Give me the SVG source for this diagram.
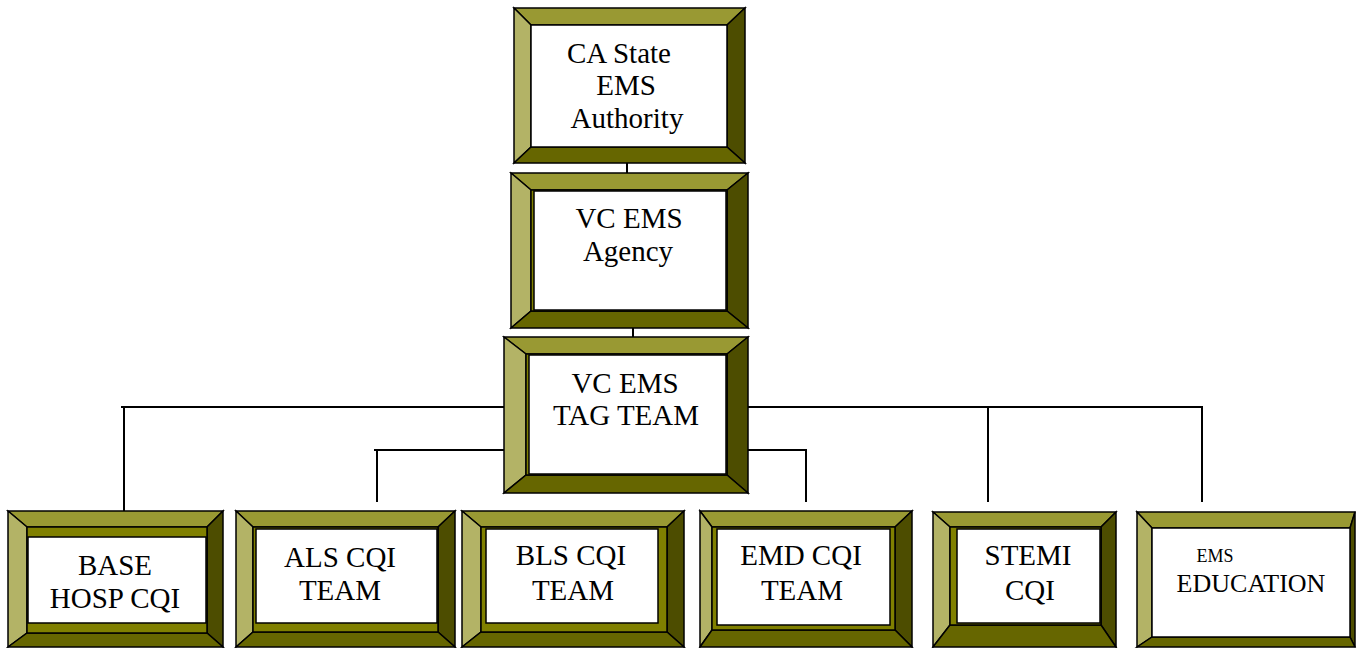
<svg xmlns="http://www.w3.org/2000/svg" width="1357" height="648" viewBox="0 0 1357 648">
<style>
.t{fill:#999933;stroke:#000;stroke-width:1.5}
.l{fill:#b3b366;stroke:#000;stroke-width:1.5}
.r{fill:#4d4d00;stroke:#000;stroke-width:1.5}
.b{fill:#666600;stroke:#000;stroke-width:1.5}
.o{fill:#808000;stroke:#000;stroke-width:1.5}
.w{fill:#fff;stroke:#000;stroke-width:1.5}
text{font-family:'Liberation Serif','DejaVu Serif',serif;font-size:29px;fill:#000;text-anchor:middle}
.con line{stroke:#000;stroke-width:2;fill:none}
</style>
<rect width="1357" height="648" fill="#fff"/>
<g id="connectors" class="con">
<line x1="627" y1="163" x2="627" y2="173"/>
<line x1="633" y1="328" x2="633" y2="337"/>
<line x1="121" y1="407" x2="504" y2="407"/>
<line x1="124" y1="407" x2="124" y2="511"/>
<line x1="374" y1="450" x2="504" y2="450"/>
<line x1="377" y1="450" x2="377" y2="502"/>
<line x1="748" y1="407" x2="1203" y2="407"/>
<line x1="988" y1="407" x2="988" y2="502"/>
<line x1="1202" y1="407" x2="1202" y2="502"/>
<line x1="748" y1="450" x2="807" y2="450"/>
<line x1="806" y1="450" x2="806" y2="502"/>
</g>
<g id="ca-state">
<polygon class="t" points="514,8 745,8 727,25 531,25"/>
<polygon class="l" points="514,8 531,25 531,147 514,163"/>
<polygon class="r" points="745,8 745,163 727,147 727,25"/>
<polygon class="b" points="514,163 531,147 727,147 745,163"/>
<rect class="w" x="531" y="25" width="196" height="122"/>
<text x="619" y="63">CA State</text>
<text x="626" y="95">EMS</text>
<text x="627" y="128">Authority</text>
</g>
<g id="vc-agency">
<polygon class="t" points="511,173 748,173 727,190 531,190"/>
<polygon class="l" points="511,173 531,190 531,311 511,328"/>
<polygon class="r" points="748,173 748,328 727,311 727,190"/>
<polygon class="b" points="511,328 531,311 727,311 748,328"/>
<rect class="o" x="531" y="190" width="196" height="121"/>
<rect class="w" x="534" y="191" width="192" height="119"/>
<text x="629" y="228">VC EMS</text>
<text x="628" y="261">Agency</text>
</g>
<g id="tag-team">
<polygon class="t" points="504,337 748,337 727,354 526,354"/>
<polygon class="l" points="504,337 526,354 526,475 504,493"/>
<polygon class="r" points="748,337 748,493 727,475 727,354"/>
<polygon class="b" points="504,493 526,475 727,475 748,493"/>
<rect class="o" x="526" y="354" width="201" height="121"/>
<rect class="w" x="529" y="355" width="197" height="119"/>
<text x="625" y="393">VC EMS</text>
<text x="626" y="425">TAG TEAM</text>
</g>
<g id="base-hosp">
<polygon class="t" points="8,511 223,511 207,527 27,527"/>
<polygon class="l" points="8,511 27,527 27,633 8,647"/>
<polygon class="r" points="223,511 223,647 207,633 207,527"/>
<polygon class="b" points="8,647 27,633 207,633 223,647"/>
<rect class="o" x="27" y="527" width="180" height="106"/>
<rect class="w" x="28" y="537" width="178" height="86"/>
<text x="115" y="575">BASE</text>
<text x="115" y="608">HOSP CQI</text>
</g>
<g id="als">
<polygon class="t" points="236,511 455,511 438,527 253,527"/>
<polygon class="l" points="236,511 253,527 253,632 236,647"/>
<polygon class="r" points="455,511 455,647 438,632 438,527"/>
<polygon class="b" points="236,647 253,632 438,632 455,647"/>
<rect class="o" x="253" y="527" width="185" height="105"/>
<rect class="w" x="256" y="529" width="181" height="94"/>
<text x="340" y="567">ALS CQI</text>
<text x="340" y="600">TEAM</text>
</g>
<g id="bls">
<polygon class="t" points="462,511 684,511 667,527 481,527"/>
<polygon class="l" points="462,511 481,527 481,632 462,647"/>
<polygon class="r" points="684,511 684,647 667,632 667,527"/>
<polygon class="b" points="462,647 481,632 667,632 684,647"/>
<rect class="o" x="481" y="527" width="186" height="105"/>
<rect class="w" x="486" y="529" width="172" height="94"/>
<text x="571" y="565">BLS CQI</text>
<text x="573" y="600">TEAM</text>
</g>
<g id="emd">
<polygon class="t" points="700,511 912,511 895,527 712,527"/>
<polygon class="l" points="700,511 712,527 712,630 700,647"/>
<polygon class="r" points="912,511 912,647 895,630 895,527"/>
<polygon class="b" points="700,647 712,630 895,630 912,647"/>
<rect class="o" x="712" y="527" width="183" height="103"/>
<rect class="w" x="717" y="529" width="173" height="96"/>
<text x="801" y="565">EMD CQI</text>
<text x="802" y="600">TEAM</text>
</g>
<g id="stemi">
<polygon class="t" points="933,512 1116,512 1101,527 950,527"/>
<polygon class="l" points="933,512 950,527 950,625 933,647"/>
<polygon class="r" points="1116,512 1116,647 1101,625 1101,527"/>
<polygon class="b" points="933,647 950,625 1101,625 1116,647"/>
<rect class="o" x="950" y="527" width="151" height="98"/>
<rect class="w" x="957" y="529" width="143" height="94"/>
<text x="1028" y="565">STEMI</text>
<text x="1030" y="600">CQI</text>
</g>
<g id="ems-education">
<polygon class="t" points="1137,512 1355,512 1350,528 1152,528"/>
<polygon class="l" points="1137,512 1152,528 1152,637 1137,647"/>
<polygon class="r" points="1355,512 1355,647 1350,637 1350,528"/>
<polygon class="b" points="1137,647 1152,637 1350,637 1355,647"/>
<rect class="w" x="1152" y="528" width="198" height="109"/>
<text x="1215" y="562" style="font-size:18px">EMS</text>
<text x="1251" y="592" style="font-size:26px">EDUCATION</text>
</g>
</svg>
